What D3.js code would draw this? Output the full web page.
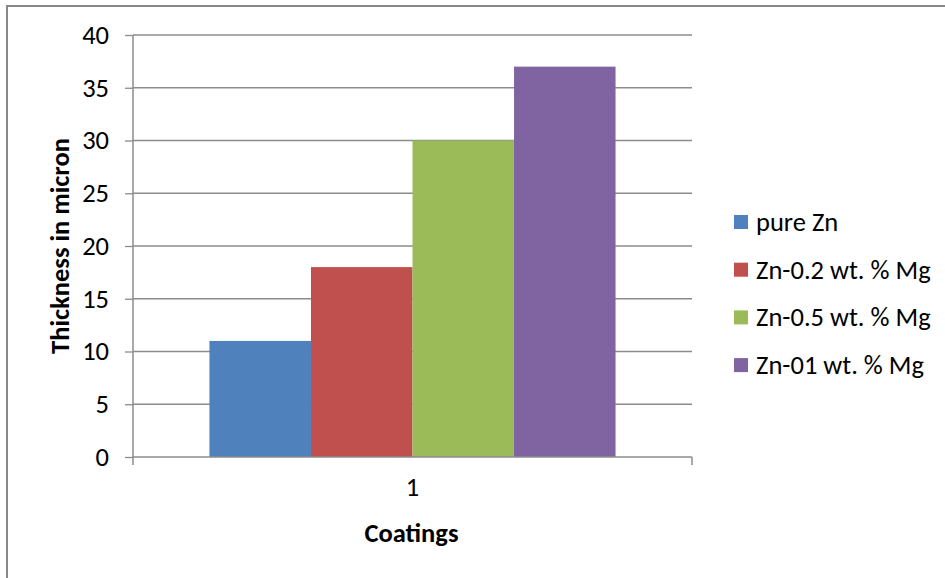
<!DOCTYPE html>
<html><head><meta charset="utf-8">
<script src="https://cdn.jsdelivr.net/npm/d3@7"></script>
<style>body{margin:0;background:#fff}svg{display:block}text{font-family:Carlito,Calibri,Lato,"Open Sans",sans-serif}</style>
</head><body>
<svg id="c" width="945" height="578"></svg>
<script>
const categories = ["1"];
const seriesNames = ["pure Zn", "Zn-0.2 wt. % Mg", "Zn-0.5 wt. % Mg", "Zn-01 wt. % Mg"];
const seriesValues = [11, 18, 30, 37];
const seriesColors = ["#4f81bd", "#c0504d", "#9bbb59", "#8064a2"];
const yTicks = [0, 5, 10, 15, 20, 25, 30, 35, 40];

const FS = 26.5;
const svg = d3.select("#c");
svg.append("rect").attr("x", 7).attr("y", 6).attr("width", 960).attr("height", 600)
  .attr("fill", "#fff").attr("stroke", "#888").attr("stroke-width", 2);

const L = 133, R = 692, T = 35, B = 457;
const y = d3.scaleLinear().domain([0, 40]).range([B, T]);
const x0 = d3.scaleBand().domain(categories).range([L, R]).paddingInner(0).paddingOuter(0);
const bw = x0.bandwidth();
const x1 = d3.scaleBand().domain(seriesNames).range([0, bw]).paddingInner(0).paddingOuter(0.753);

// gridlines
svg.append("g").selectAll("line").data(yTicks.filter(d => d > 0)).join("line")
  .attr("x1", L).attr("x2", R).attr("y1", d => y(d)).attr("y2", d => y(d))
  .attr("stroke", "#8c8c8c").attr("stroke-width", 1.3);

// bars
const g = svg.append("g");
categories.forEach(c => {
  g.selectAll("rect.b").data(seriesNames).join("rect").attr("class", "b")
    .attr("x", s => x0(c) + x1(s)).attr("width", x1.bandwidth())
    .attr("y", (s, i) => y(seriesValues[i])).attr("height", (s, i) => B - y(seriesValues[i]))
    .attr("fill", (s, i) => seriesColors[i]);
});

// y axis
const ya = svg.append("g").attr("transform", `translate(${L},0)`)
  .call(d3.axisLeft(y).tickValues(yTicks).tickSize(8).tickPadding(16));
ya.attr("font-size", FS);
ya.select(".domain").attr("stroke", "#8c8c8c").attr("stroke-width", 1.5).attr("d", `M0,${T}V${B}`);
ya.selectAll(".tick line").attr("stroke", "#8c8c8c").attr("stroke-width", 1.3);
ya.selectAll(".tick text").style("font-size", FS + "px").attr("fill", "#000");

// x axis
const xa = svg.append("g").attr("transform", `translate(0,${B})`)
  .call(d3.axisBottom(x0).tickSize(0).tickPadding(20));
xa.attr("font-size", FS);
xa.select(".domain").attr("stroke", "#8c8c8c").attr("stroke-width", 1.5).attr("d", `M${L},0H${R}`);
xa.selectAll(".tick text").style("font-size", FS + "px").attr("fill", "#000");
[L, R].forEach(px => xa.append("line").attr("x1", px).attr("x2", px).attr("y1", 0).attr("y2", 8)
  .attr("stroke", "#8c8c8c").attr("stroke-width", 1.5));

// axis titles
svg.append("text").attr("x", (L + R) / 2 - 1).attr("y", 542).attr("text-anchor", "middle")
  .style("font-size", FS + "px").attr("font-weight", "bold").text("Coatings");
svg.append("text").attr("transform", `translate(69,246) rotate(-90)`).attr("text-anchor", "middle")
  .style("font-size", FS + "px").attr("font-weight", "bold").text("Thickness in micron");

// legend
const lg = svg.append("g");
seriesNames.forEach((s, i) => {
  const cy = 222 + i * 47.7;
  lg.append("rect").attr("x", 734).attr("y", cy - 7).attr("width", 14).attr("height", 14).attr("fill", seriesColors[i]);
  lg.append("text").attr("x", 756).attr("y", cy + 9).style("font-size", FS + "px").text(s);
});
</script>
</body></html>
